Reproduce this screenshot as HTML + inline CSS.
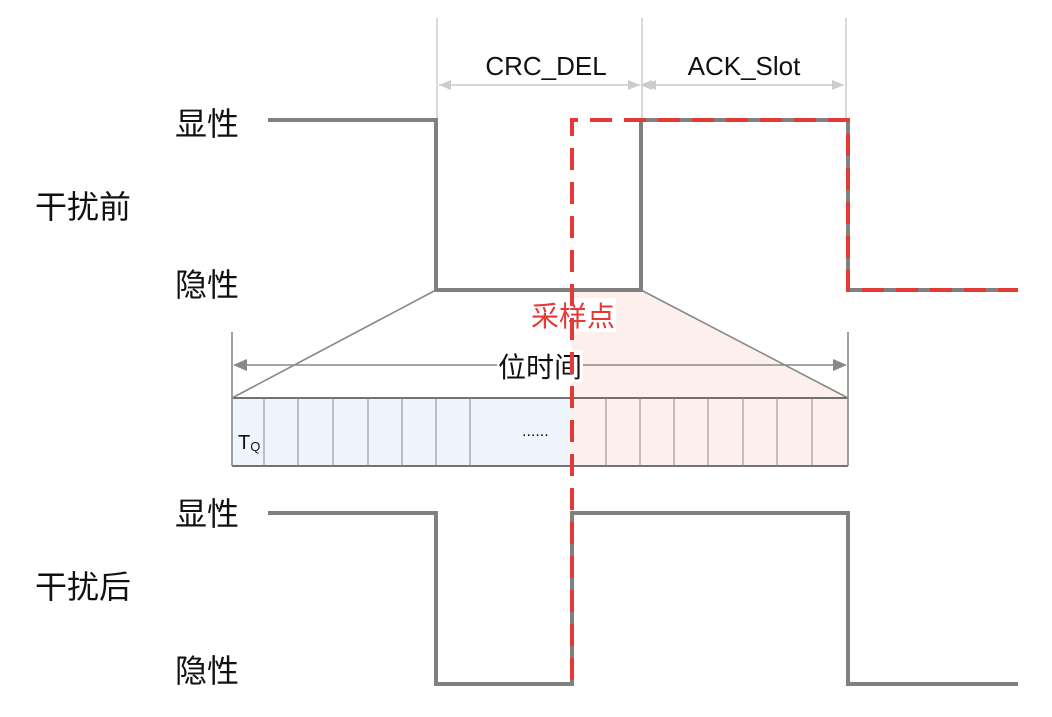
<!DOCTYPE html>
<html><head><meta charset="utf-8"><style>
html,body{margin:0;padding:0;background:#fff;}
svg text{font-family:"Liberation Sans","Noto Sans CJK SC",sans-serif;}
</style></head><body>
<svg width="1052" height="712" viewBox="0 0 1052 712" xmlns="http://www.w3.org/2000/svg">
<defs>
<marker id="la" markerWidth="12" markerHeight="10" refX="0" refY="5" orient="auto-start-reverse" markerUnits="userSpaceOnUse"><path d="M0,5 L12,0 L12,10 z" fill="#ccc"/></marker>
<marker id="ga" markerWidth="14" markerHeight="12" refX="0" refY="6" orient="auto-start-reverse" markerUnits="userSpaceOnUse"><path d="M0,6 L14,0 L14,12 z" fill="#888"/></marker>
</defs>
<!-- dimension lines -->
<g stroke="#ccc" stroke-width="1.5">
<line x1="437" y1="18" x2="437" y2="120"/>
<line x1="642" y1="18" x2="642" y2="120"/>
<line x1="846" y1="18" x2="846" y2="120"/>
<line x1="439" y1="85" x2="640" y2="85" marker-start="url(#la)" marker-end="url(#la)" style="marker-start:none"/>
</g>
<path d="M439,85 l12,-5 v10z M640,85 l-12,-5 v10z M644,85 l12,-5 v10z M844,85 l-12,-5 v10z" fill="#ccc"/>
<line x1="644" y1="85" x2="844" y2="85" stroke="#ccc" stroke-width="1.5"/>
<text x="546" y="75" font-size="26" text-anchor="middle" fill="#111">CRC_DEL</text>
<text x="744" y="75" font-size="26" text-anchor="middle" fill="#111">ACK_Slot</text>
<!-- labels -->
<g font-size="32" fill="#111">
<text x="175" y="135">显性</text>
<text x="175" y="296">隐性</text>
<text x="35" y="218">干扰前</text>
<text x="175" y="525">显性</text>
<text x="175" y="682">隐性</text>
<text x="35" y="598">干扰后</text>
</g>
<!-- bit grid -->
<polygon points="572,290 641,290 848,398 572,398" fill="#fdf0ec"/>
<rect x="232" y="398" width="340" height="68" fill="#eef5fc"/>
<rect x="572" y="398" width="276" height="68" fill="#fdf0ec"/>
<line x1="232" y1="398" x2="848" y2="398" stroke="#222" stroke-width="1.2"/>
<line x1="232" y1="466" x2="848" y2="466" stroke="#222" stroke-width="1.2"/>
<g stroke="#888" stroke-width="1">
<line x1="264" y1="398" x2="264" y2="466"/><line x1="298" y1="398" x2="298" y2="466"/>
<line x1="333" y1="398" x2="333" y2="466"/><line x1="368" y1="398" x2="368" y2="466"/>
<line x1="402" y1="398" x2="402" y2="466"/><line x1="436" y1="398" x2="436" y2="466"/>
<line x1="470" y1="398" x2="470" y2="466"/>
<line x1="606" y1="398" x2="606" y2="466"/><line x1="640" y1="398" x2="640" y2="466"/>
<line x1="674" y1="398" x2="674" y2="466"/><line x1="708" y1="398" x2="708" y2="466"/>
<line x1="743" y1="398" x2="743" y2="466"/><line x1="777" y1="398" x2="777" y2="466"/>
<line x1="812" y1="398" x2="812" y2="466"/>
</g>
<g stroke="#888" stroke-width="1.6">
<line x1="232" y1="332" x2="232" y2="466"/>
<line x1="848" y1="332" x2="848" y2="466"/>
<line x1="436" y1="290" x2="232" y2="398"/>
<line x1="641" y1="290" x2="848" y2="398"/>
<line x1="246" y1="365" x2="834" y2="365"/>
</g>
<path d="M233,365 l14,-6 v12z M847,365 l-14,-6 v12z" fill="#888"/>
<text x="238" y="449" font-size="20" fill="#111">T<tspan font-size="13" dy="2">Q</tspan></text>
<text x="522" y="436" font-size="16" fill="#111">......</text>
<rect x="497" y="350" width="86" height="32" fill="#fff"/>
<text x="540" y="377" font-size="28" text-anchor="middle" fill="#111">位时间</text>
<rect x="528" y="298" width="88" height="34" fill="#fff"/>
<text x="573" y="326" font-size="28" text-anchor="middle" fill="#e53935">采样点</text>
<!-- waveforms -->
<g fill="none" stroke="#808080" stroke-width="4">
<polyline points="268,120 436,120 436,290 641,290 641,120 848,120 848,290 1018,290"/>
<polyline points="268,513 436,513 436,684 572,684 572,513 848,513 848,684 1018,684"/>
</g>
<g fill="none" stroke="#e53935" stroke-width="4" stroke-dasharray="22,12">
<polyline points="572,680 572,120 848,120 848,290 1018,290"/>
</g>
</svg>
</body></html>
